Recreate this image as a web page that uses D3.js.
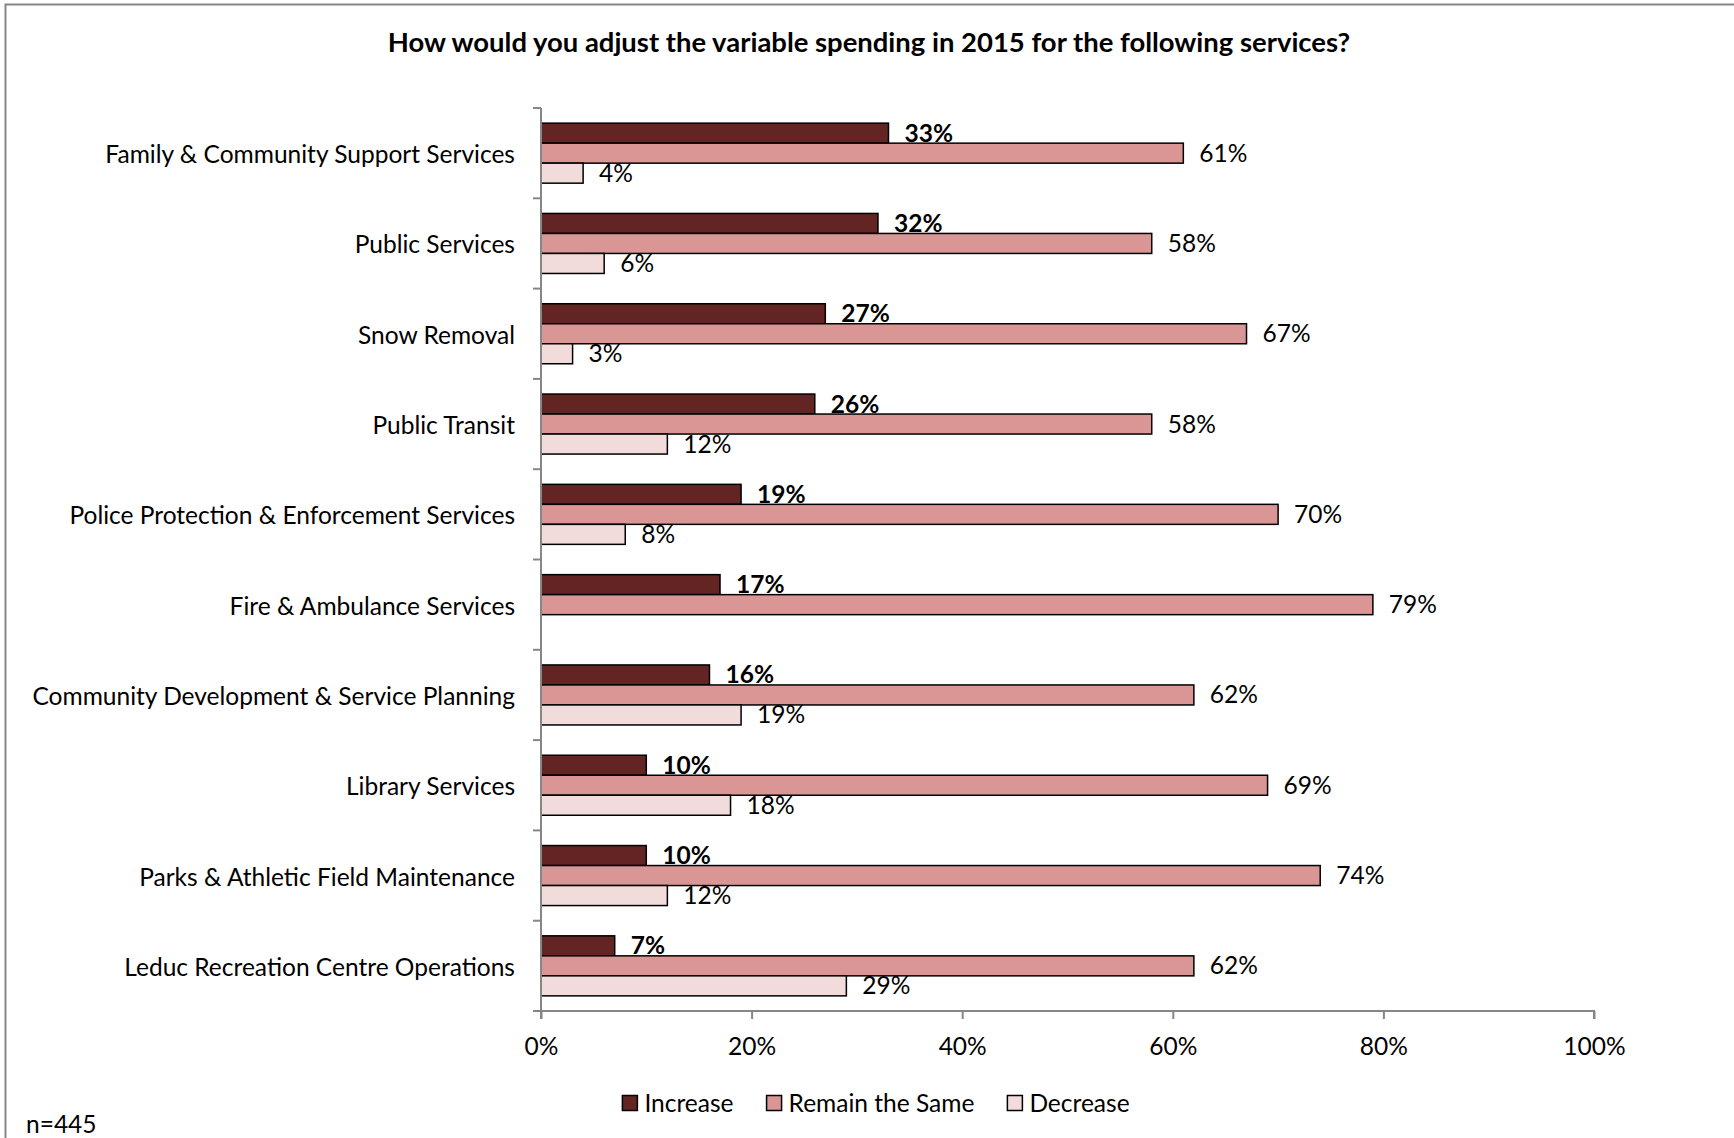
<!DOCTYPE html>
<html>
<head>
<meta charset="utf-8">
<script src="https://cdn.jsdelivr.net/npm/d3@7"></script>
<style>
  html, body { margin: 0; padding: 0; background: #fff; }
  svg { display: block; }
  text { font-family: Lato, "Open Sans", sans-serif; fill: #000; }
</style>
</head>
<body>
<svg id="chart" width="1734" height="1138"></svg>
<script>
// Survey categories (top to bottom)
const categories = [
  "Family & Community Support Services",
  "Public Services",
  "Snow Removal",
  "Public Transit",
  "Police Protection & Enforcement Services",
  "Fire & Ambulance Services",
  "Community Development & Service Planning",
  "Library Services",
  "Parks & Athletic Field Maintenance",
  "Leduc Recreation Centre Operations"
];

// Share of respondents (%) per answer
const increaseValues = [33, 32, 27, 26, 19, 17, 16, 10, 10, 7];
const remainValues   = [61, 58, 67, 58, 70, 79, 62, 69, 74, 62];
const decreaseValues = [4, 6, 3, 12, 8, null, 19, 18, 12, 29];

const seriesNames = ["Increase", "Remain the Same", "Decrease"];
const seriesColors = ["#632523", "#D99694", "#F2DCDB"];
const xTicks = [0, 20, 40, 60, 80, 100];

const titleText = "How would you adjust the variable spending in 2015 for the following services?";
const noteText = "n=445";

const svg = d3.select("#chart");
const axisColor = "#868686";

// Outer frame (runs off the right and bottom edges)
svg.append("path")
  .attr("d", "M5.5,1140 L5.5,4.5 L1740,4.5")
  .attr("fill", "none")
  .attr("stroke", axisColor)
  .attr("stroke-width", 2);

// Measure helper to size fonts against a reference width
function fitSize(text, weight, targetWidth, base) {
  const t = svg.append("text").attr("font-size", base).attr("font-weight", weight).text(text);
  const w = t.node().getComputedTextLength();
  t.remove();
  return base * targetWidth / w;
}

const labelSize = fitSize("Community Development & Service Planning", "normal", 483, 24);
const titleSize = fitSize(titleText, "bold", 963, 24);

// Title
svg.append("text")
  .attr("x", 869)
  .attr("y", 52)
  .attr("text-anchor", "middle")
  .attr("font-weight", "bold")
  .attr("font-size", titleSize)
  .text(titleText);

// Scales
const x = d3.scaleLinear().domain([0, 100]).range([541, 1594]);
const y = d3.scaleBand().domain(categories).range([108, 1011]).paddingInner(0).paddingOuter(0);
const sub = d3.scaleBand().domain(seriesNames).range([0, y.bandwidth()]).paddingOuter(0.757).paddingInner(0);

const rows = categories.map((c, i) => ({
  category: c,
  values: [increaseValues[i], remainValues[i], decreaseValues[i]]
}));

// Bars and value labels
const groups = svg.append("g").selectAll("g")
  .data(rows)
  .join("g")
  .attr("transform", d => `translate(0,${y(d.category)})`);

groups.each(function(d) {
  const g = d3.select(this);
  const items = d.values.map((v, k) => ({ v, k })).filter(e => e.v != null);
  g.selectAll("rect")
    .data(items)
    .join("rect")
    .attr("x", x(0))
    .attr("y", e => sub(seriesNames[e.k]))
    .attr("width", e => x(e.v) - x(0))
    .attr("height", sub.bandwidth())
    .attr("fill", e => seriesColors[e.k])
    .attr("stroke", "#000")
    .attr("stroke-width", 1.5);
  g.selectAll("text")
    .data(items)
    .join("text")
    .attr("x", e => x(e.v) + 16)
    .attr("y", e => sub(seriesNames[e.k]) + sub.bandwidth() / 2 + 8.5)
    .attr("font-size", labelSize)
    .attr("font-weight", e => e.k === 0 ? "bold" : "normal")
    .text(e => e.v + "%");
});

// Y axis: line with ticks on category boundaries
const yAxis = svg.append("g");
yAxis.append("line")
  .attr("x1", x(0)).attr("x2", x(0))
  .attr("y1", y.range()[0]).attr("y2", y.range()[1])
  .attr("stroke", axisColor).attr("stroke-width", 2);
const boundaries = categories.map(c => y(c)).concat([y.range()[1]]);
yAxis.selectAll("line.tick")
  .data(boundaries)
  .join("line")
  .attr("class", "tick")
  .attr("x1", x(0) - 8).attr("x2", x(0))
  .attr("y1", d => d).attr("y2", d => d)
  .attr("stroke", axisColor).attr("stroke-width", 2);

// Category labels
svg.append("g").selectAll("text")
  .data(categories)
  .join("text")
  .attr("x", 515)
  .attr("y", d => y(d) + y.bandwidth() / 2 + 10)
  .attr("text-anchor", "end")
  .attr("font-size", labelSize)
  .text(d => d);

// X axis
const xAxis = svg.append("g").attr("transform", `translate(0,${y.range()[1]})`)
  .call(d3.axisBottom(x).tickValues(xTicks).tickSize(8).tickPadding(0).tickFormat(d => d + "%"));
xAxis.select(".domain").attr("stroke", axisColor).attr("stroke-width", 2)
  .attr("d", `M${x(0)},8V0H${x(100)}V8`);
xAxis.selectAll(".tick line").attr("stroke", axisColor).attr("stroke-width", 2);
xAxis.selectAll(".tick text")
  .attr("y", 44)
  .attr("dy", null)
  .attr("fill", "#000")
  .attr("font-family", "Lato, 'Open Sans', sans-serif")
  .attr("font-size", labelSize);

// Legend
const legend = svg.append("g");
const sq = 15, gapText = 7, gapItem = 33;
let cursor = 0;
seriesNames.forEach((name, k) => {
  const item = legend.append("g");
  item.append("rect")
    .attr("x", 0).attr("y", -sq / 2)
    .attr("width", sq).attr("height", sq)
    .attr("fill", seriesColors[k])
    .attr("stroke", "#000").attr("stroke-width", 1.5);
  const t = item.append("text")
    .attr("x", sq + gapText).attr("y", 8.5)
    .attr("font-size", labelSize)
    .text(name);
  const w = sq + gapText + t.node().getComputedTextLength();
  item.attr("transform", `translate(${cursor},0)`);
  cursor += w + gapItem;
});
const legendWidth = cursor - gapItem;
legend.attr("transform", `translate(${876 - legendWidth / 2},1103)`);

// Sample size note
svg.append("text")
  .attr("x", 26)
  .attr("y", 1133)
  .attr("font-size", labelSize)
  .text(noteText);
</script>
</body>
</html>
